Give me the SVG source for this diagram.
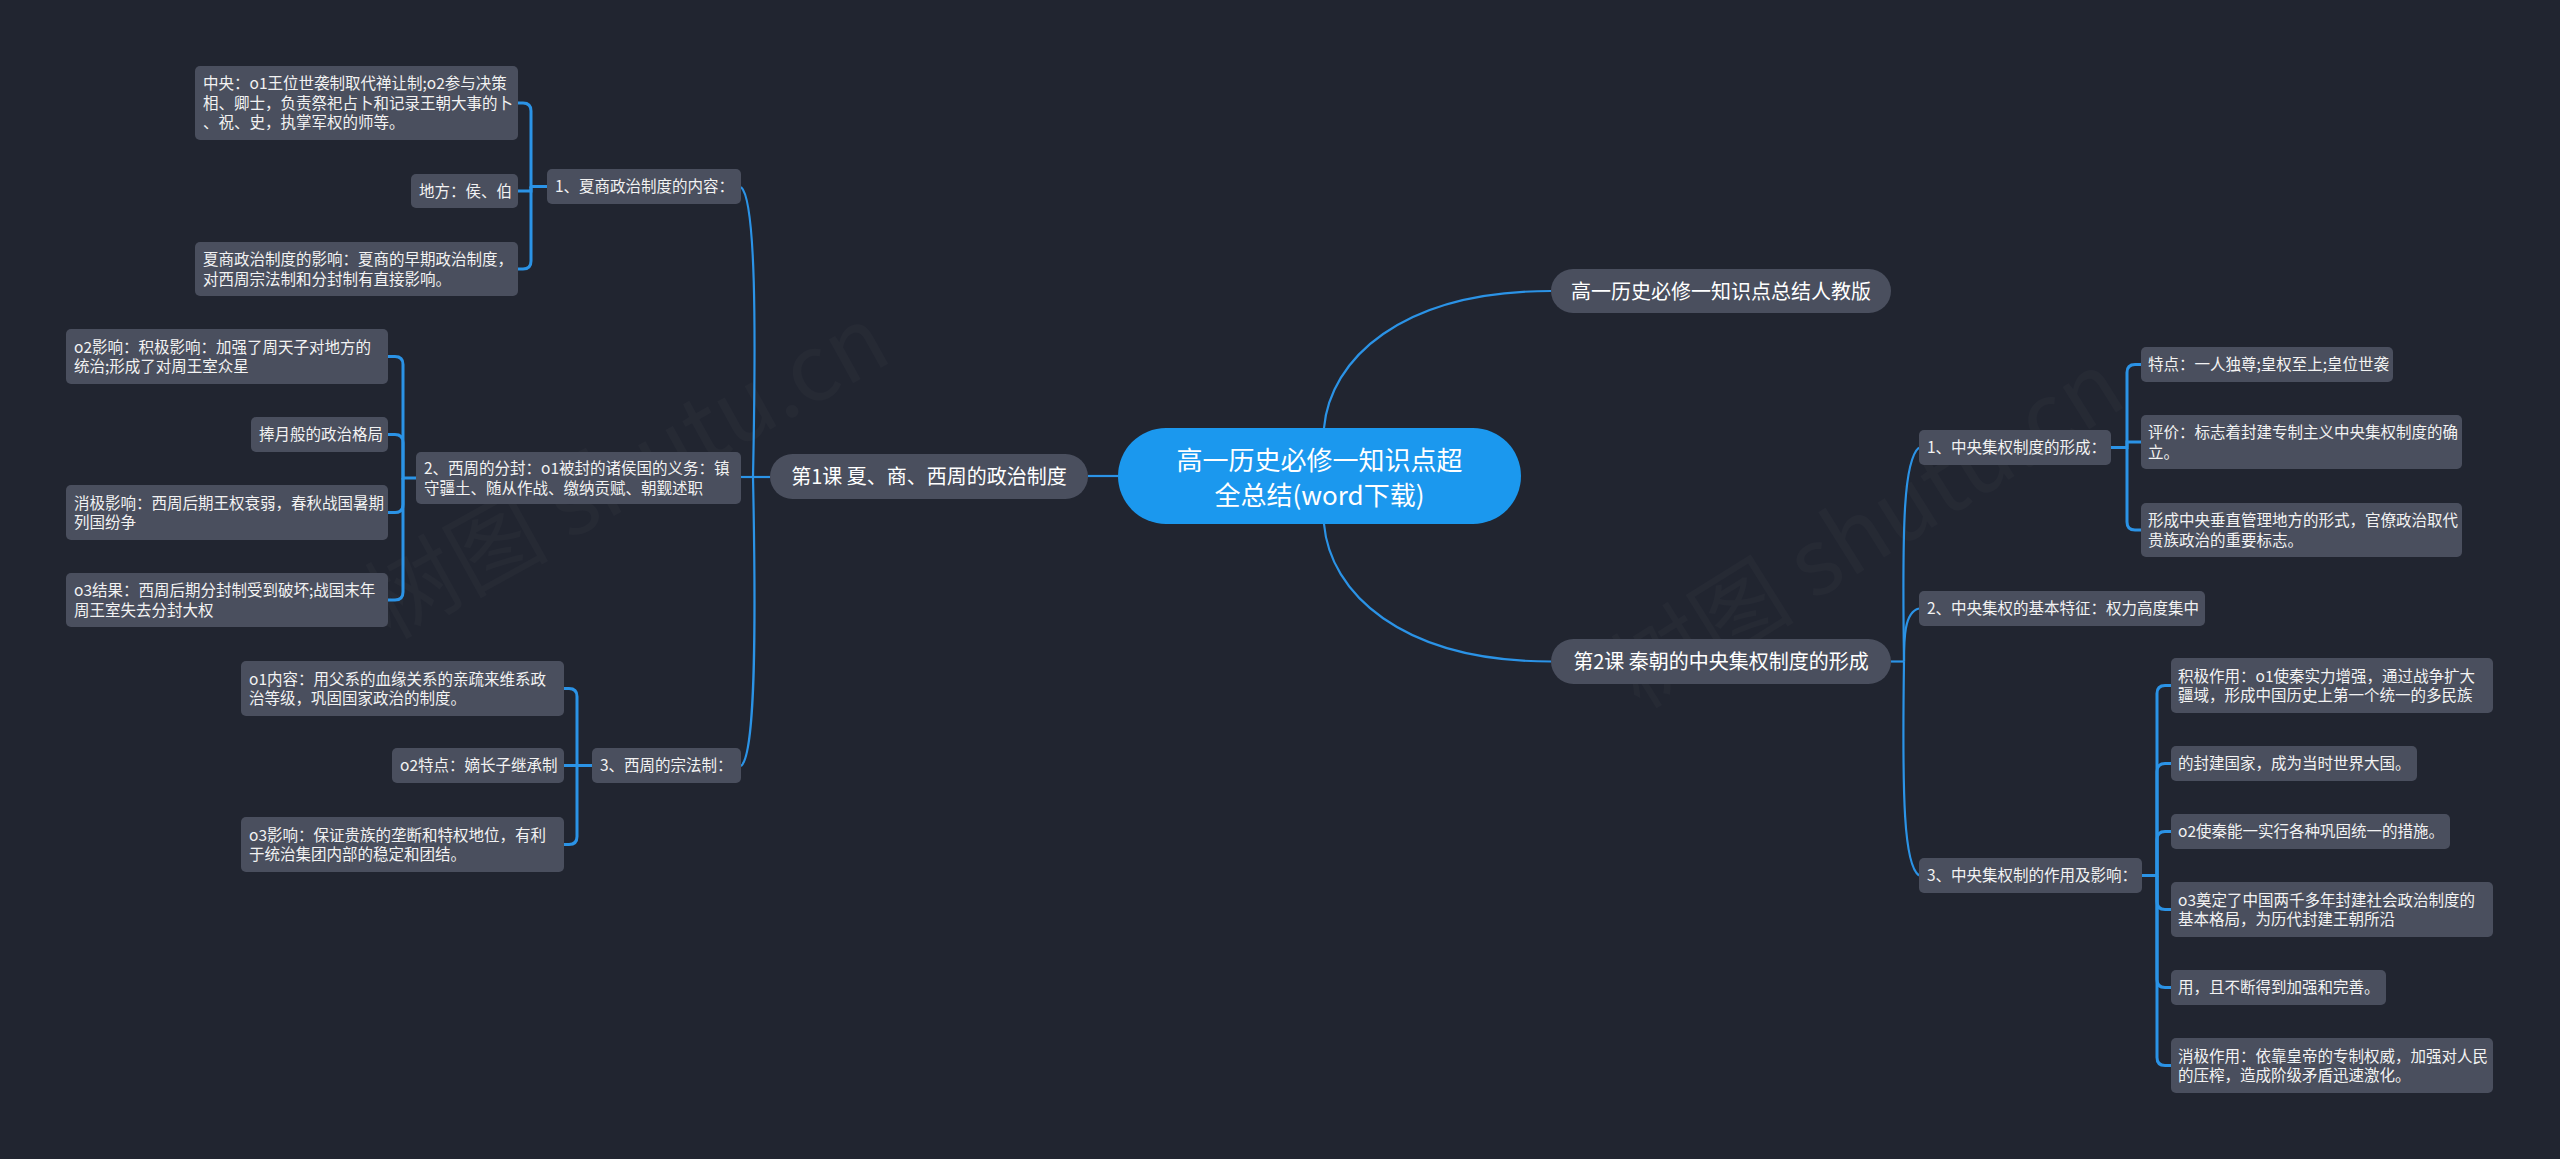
<svg xmlns="http://www.w3.org/2000/svg" width="2560" height="1159" viewBox="0 0 2560 1159">
<style>
.bg{fill:#212530}
.nd{fill:#4a4f5e}
.mn{fill:#4a4f5e}
.ct{fill:#1b98ee}
.t{font-family:"Noto Sans CJK SC","Noto Sans",sans-serif;font-size:15.5px;fill:#f2f2f2}
.tm{font-family:"Noto Sans CJK SC","Noto Sans",sans-serif;font-size:20px;fill:#ffffff;text-anchor:middle}
.tc{font-family:"Noto Sans CJK SC","Noto Sans",sans-serif;font-size:26px;fill:#ffffff;text-anchor:middle}
.ln{fill:none;stroke:#2b93e6;stroke-width:2.2}
.br{fill:none;stroke:#2b93e6;stroke-width:3}
.wm{font-family:"Noto Sans CJK SC","Noto Sans",sans-serif;font-size:92px;fill:#ffffff;opacity:0.02}
</style>
<rect class="bg" x="0" y="0" width="2560" height="1159"/>
<g id="watermark">
<text class="wm" transform="translate(390 640) rotate(-29)">树图 shutu.cn</text>
<text class="wm" transform="translate(1640 710) rotate(-32)">树图 shutu.cn</text>
</g>
<g id="connectors">
<path class="ln" d="M1118 476 H1088"/>
<path class="ln" d="M1324 428 C1330 360 1400 291 1551 291"/>
<path class="ln" d="M1324 524 C1330 592 1400 661.5 1551 661.5"/>
<path class="ln" d="M770 477 H741"/>
<path class="ln" d="M753 477 C756 330 756 200 741 187"/>
<path class="ln" d="M753 477 C756 620 756 755 741 766"/>
<path class="ln" d="M1891 661.5 H1904"/>
<path class="ln" d="M1904 661.5 C1902 520 1904 460 1919 447.5"/>
<path class="ln" d="M1904 661.5 C1904 640 1904 612 1919 608.5"/>
<path class="ln" d="M1904 661.5 C1902 800 1904 865 1919 875.5"/>
<path class="br" d="M547 186.5 H531 V111 Q531 103 523 103 H518"/>
<path class="br" d="M531 186.5 V191 H518"/>
<path class="br" d="M531 186.5 V261 Q531 269 523 269 H518"/>
<path class="br" d="M416 478 H403 V364.5 Q403 356.5 395 356.5 H388"/>
<path class="br" d="M403 478 V442.5 Q403 434.5 395 434.5 H388"/>
<path class="br" d="M403 478 V504.5 Q403 512.5 395 512.5 H388"/>
<path class="br" d="M403 478 V592 Q403 600 395 600 H388"/>
<path class="br" d="M592 765.5 H577 V696.5 Q577 688.5 569 688.5 H564"/>
<path class="br" d="M577 765.5 H564"/>
<path class="br" d="M577 765.5 V836.5 Q577 844.5 569 844.5 H564"/>
<path class="br" d="M2111 447.5 H2127 V372.5 Q2127 364.5 2135 364.5 H2141"/>
<path class="br" d="M2127 447.5 V442 H2141"/>
<path class="br" d="M2127 447.5 V522 Q2127 530 2135 530 H2141"/>
<path class="br" d="M2142 875.5 H2157 V693.5 Q2157 685.5 2165 685.5 H2171"/>
<path class="br" d="M2157 875.5 V771.5 Q2157 763.5 2165 763.5 H2171"/>
<path class="br" d="M2157 875.5 V839.5 Q2157 831.5 2165 831.5 H2171"/>
<path class="br" d="M2157 875.5 V901.5 Q2157 909.5 2165 909.5 H2171"/>
<path class="br" d="M2157 875.5 V979.5 Q2157 987.5 2165 987.5 H2171"/>
<path class="br" d="M2157 875.5 V1057.5 Q2157 1065.5 2165 1065.5 H2171"/>
</g>
<g id="center">
<rect class="ct" x="1118" y="428" width="403" height="96" rx="48"/>
<text class="tc" x="1319.5" y="469.5">高一历史必修一知识点超</text>
<text class="tc" x="1319.5" y="504.5">全总结(word下载)</text>
</g>
<g id="lesson1">
<rect class="mn" x="770" y="454" width="318" height="45" rx="22.5"/>
<text class="tm" x="929" y="484">第1课 夏、商、西周的政治制度</text>
</g>
<g id="summary">
<rect class="mn" x="1551" y="269" width="340" height="44" rx="22"/>
<text class="tm" x="1721" y="298.6">高一历史必修一知识点总结人教版</text>
</g>
<g id="lesson2">
<rect class="mn" x="1551" y="639" width="340" height="45" rx="22.5"/>
<text class="tm" x="1721" y="669">第2课 秦朝的中央集权制度的形成</text>
</g>
<g id="p1">
<rect class="nd" x="547" y="169" width="194" height="35" rx="5"/>
<text class="t" x="555" y="192.4">1、夏商政治制度的内容：</text>
</g>
<g id="p2">
<rect class="nd" x="416" y="452" width="325" height="52" rx="5"/>
<text class="t" x="424" y="474.2">2、西周的分封：o1被封的诸侯国的义务：镇</text>
<text class="t" x="424" y="493.7">守疆土、随从作战、缴纳贡赋、朝觐述职</text>
</g>
<g id="p3">
<rect class="nd" x="592" y="748" width="149" height="35" rx="5"/>
<text class="t" x="600" y="771.4">3、西周的宗法制：</text>
</g>
<g id="a1">
<rect class="nd" x="195" y="66" width="323" height="74" rx="5"/>
<text class="t" x="203" y="89.4">中央：o1王位世袭制取代禅让制;o2参与决策</text>
<text class="t" x="203" y="108.9">相、卿士，负责祭祀占卜和记录王朝大事的卜</text>
<text class="t" x="203" y="128.4">、祝、史，执掌军权的师等。</text>
</g>
<g id="a2">
<rect class="nd" x="411" y="174" width="107" height="34" rx="5"/>
<text class="t" x="419" y="196.9">地方：侯、伯</text>
</g>
<g id="a3">
<rect class="nd" x="195" y="242" width="323" height="54" rx="5"/>
<text class="t" x="203" y="265.2">夏商政治制度的影响：夏商的早期政治制度，</text>
<text class="t" x="203" y="284.7">对西周宗法制和分封制有直接影响。</text>
</g>
<g id="b1">
<rect class="nd" x="66" y="329" width="322" height="55" rx="5"/>
<text class="t" x="74" y="352.7">o2影响：积极影响：加强了周天子对地方的</text>
<text class="t" x="74" y="372.2">统治;形成了对周王室众星</text>
</g>
<g id="b2">
<rect class="nd" x="251" y="417" width="137" height="35" rx="5"/>
<text class="t" x="259" y="440.4">捧月般的政治格局</text>
</g>
<g id="b3">
<rect class="nd" x="66" y="485" width="322" height="55" rx="5"/>
<text class="t" x="74" y="508.7">消极影响：西周后期王权衰弱，春秋战国暑期</text>
<text class="t" x="74" y="528.2">列国纷争</text>
</g>
<g id="b4">
<rect class="nd" x="66" y="573" width="322" height="54" rx="5"/>
<text class="t" x="74" y="596.2">o3结果：西周后期分封制受到破坏;战国末年</text>
<text class="t" x="74" y="615.7">周王室失去分封大权</text>
</g>
<g id="c1">
<rect class="nd" x="241" y="661" width="323" height="55" rx="5"/>
<text class="t" x="249" y="684.7">o1内容：用父系的血缘关系的亲疏来维系政</text>
<text class="t" x="249" y="704.2">治等级，巩固国家政治的制度。</text>
</g>
<g id="c2">
<rect class="nd" x="392" y="748" width="172" height="35" rx="5"/>
<text class="t" x="400" y="771.4">o2特点：嫡长子继承制</text>
</g>
<g id="c3">
<rect class="nd" x="241" y="817" width="323" height="55" rx="5"/>
<text class="t" x="249" y="840.7">o3影响：保证贵族的垄断和特权地位，有利</text>
<text class="t" x="249" y="860.2">于统治集团内部的稳定和团结。</text>
</g>
<g id="q1">
<rect class="nd" x="1919" y="430" width="192" height="35" rx="5"/>
<text class="t" x="1927" y="453.4">1、中央集权制度的形成：</text>
</g>
<g id="q2">
<rect class="nd" x="1919" y="591" width="286" height="35" rx="5"/>
<text class="t" x="1927" y="614.4">2、中央集权的基本特征：权力高度集中</text>
</g>
<g id="q3">
<rect class="nd" x="1919" y="858" width="223" height="35" rx="5"/>
<text class="t" x="1927" y="881.4">3、中央集权制的作用及影响：</text>
</g>
<g id="r1">
<rect class="nd" x="2141" y="347" width="252" height="35" rx="5"/>
<text class="t" x="2148" y="370.4">特点：一人独尊;皇权至上;皇位世袭</text>
</g>
<g id="r2">
<rect class="nd" x="2141" y="415" width="321" height="54" rx="5"/>
<text class="t" x="2148" y="438.2">评价：标志着封建专制主义中央集权制度的确</text>
<text class="t" x="2148" y="457.7">立。</text>
</g>
<g id="r3">
<rect class="nd" x="2141" y="503" width="321" height="54" rx="5"/>
<text class="t" x="2148" y="526.2">形成中央垂直管理地方的形式，官僚政治取代</text>
<text class="t" x="2148" y="545.7">贵族政治的重要标志。</text>
</g>
<g id="s1">
<rect class="nd" x="2171" y="658" width="322" height="55" rx="5"/>
<text class="t" x="2178" y="681.7">积极作用：o1使秦实力增强，通过战争扩大</text>
<text class="t" x="2178" y="701.2">疆域，形成中国历史上第一个统一的多民族</text>
</g>
<g id="s2">
<rect class="nd" x="2171" y="746" width="246" height="35" rx="5"/>
<text class="t" x="2178" y="769.4">的封建国家，成为当时世界大国。</text>
</g>
<g id="s3">
<rect class="nd" x="2171" y="814" width="279" height="35" rx="5"/>
<text class="t" x="2178" y="837.4">o2使秦能一实行各种巩固统一的措施。</text>
</g>
<g id="s4">
<rect class="nd" x="2171" y="882" width="322" height="55" rx="5"/>
<text class="t" x="2178" y="905.7">o3奠定了中国两千多年封建社会政治制度的</text>
<text class="t" x="2178" y="925.2">基本格局，为历代封建王朝所沿</text>
</g>
<g id="s5">
<rect class="nd" x="2171" y="970" width="215" height="35" rx="5"/>
<text class="t" x="2178" y="993.4">用，且不断得到加强和完善。</text>
</g>
<g id="s6">
<rect class="nd" x="2171" y="1038" width="322" height="55" rx="5"/>
<text class="t" x="2178" y="1061.7">消极作用：依靠皇帝的专制权威，加强对人民</text>
<text class="t" x="2178" y="1081.2">的压榨，造成阶级矛盾迅速激化。</text>
</g>
</svg>
